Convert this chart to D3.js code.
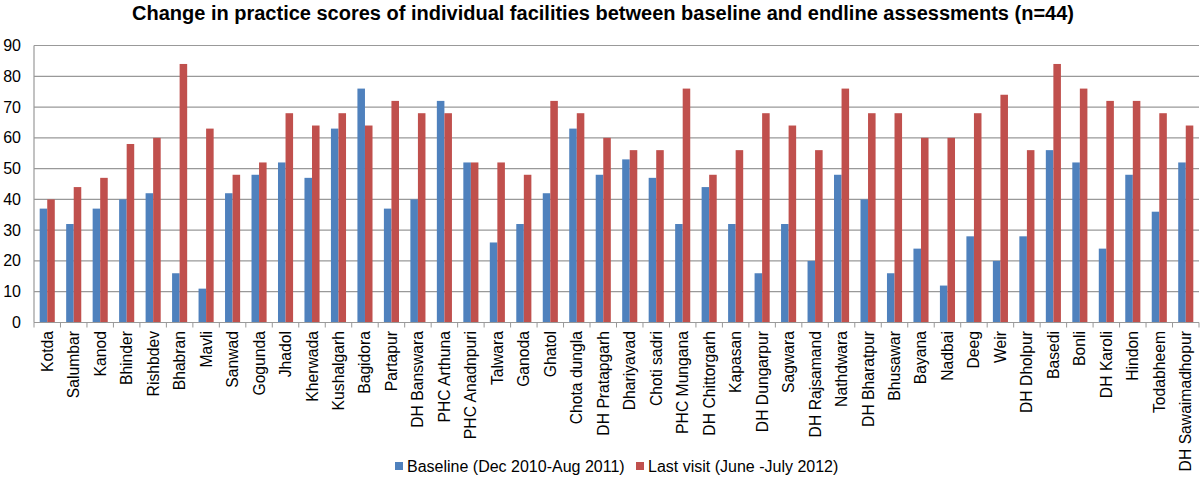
<!DOCTYPE html>
<html><head><meta charset="utf-8">
<script src="https://cdn.jsdelivr.net/npm/d3@7"></script>
<style>body{margin:0;background:#fff}svg{display:block;font-family:"Liberation Sans",Arial,sans-serif}</style>
</head><body><svg id="c" width="1200" height="481"></svg>
<script>
const categories=["Kotda","Salumbar","Kanod","Bhinder","Rishbdev","Bhabran","Mavli","Sanwad","Gogunda","Jhadol","Kherwada","Kushalgarh","Bagidora","Partapur","DH Banswara","PHC Arthuna","PHC Anadnpuri","Talwara","Ganoda","Ghatol","Chota dungla","DH Pratapgarh","Dhariyavad","Choti sadri","PHC Mungana","DH Chittorgarh","Kapasan","DH Dungarpur","Sagwara","DH Rajsamand","Nathdwara","DH Bharatpur","Bhusawar","Bayana","Nadbai","Deeg","Weir","DH Dholpur","Basedi","Bonli","DH Karoli","Hindon","Todabheem","DH Sawaimadhopur"];
const baseline=[37,32,37,40,42,16,11,42,48,52,47,63,76,37,40,72,52,26,32,42,63,48,53,47,32,44,32,16,32,20,48,40,16,24,12,28,20,28,56,52,24,48,36,52];
const lastVisit=[40,44,47,58,60,84,63,48,52,68,64,68,64,72,68,68,52,52,48,72,68,60,56,56,76,48,56,68,64,56,76,68,68,60,60,68,74,56,84,76,72,72,68,64];
const seriesNames=["Baseline (Dec 2010-Aug 2011)","Last visit (June -July 2012)"];
const yTicks=[0,10,20,30,40,50,60,70,80,90];
const colors=["#4f81bd","#c0504d"];

const svg=d3.select("#c");
const x=d3.scaleBand().domain(categories).range([34,1199]).paddingInner(0.43).paddingOuter(0.215);
const xb=d3.scaleBand().domain(categories).range([34,1199]);
const y=d3.scaleLinear().domain([0,90]).range([322.5,45.5]);
const inner=d3.scaleBand().domain([0,1]).range([0,x.bandwidth()]);

svg.append("text").attr("x",603).attr("y",20).attr("text-anchor","middle")
  .attr("font-size",20).attr("font-weight","bold").text("Change in practice scores of individual facilities between baseline and endline assessments (n=44)");

svg.append("g").selectAll("line").data(yTicks.filter(d=>d>0)).join("line")
  .attr("x1",34).attr("x2",1199).attr("y1",d=>y(d)).attr("y2",d=>y(d))
  .attr("stroke","#999").attr("stroke-width",1.2);
svg.append("g").selectAll("text").data(yTicks).join("text")
  .attr("x",21).attr("y",d=>y(d)+5.5).attr("text-anchor","end").attr("font-size",16).text(d=>d);
svg.append("line").attr("x1",34).attr("x2",34).attr("y1",45.5).attr("y2",322.5).attr("stroke","#999").attr("stroke-width",1.2);

const data=[baseline,lastVisit];
data.forEach((vals,si)=>{
  svg.append("g").selectAll("rect").data(categories).join("rect")
    .attr("x",(c)=>x(c)+inner(si)).attr("width",inner.bandwidth())
    .attr("y",(c,i)=>y(vals[i])).attr("height",(c,i)=>y(0)-y(vals[i]))
    .attr("fill",colors[si]);
});

const xa=svg.append("g");
xa.append("line").attr("x1",34).attr("x2",1199).attr("y1",322.5).attr("y2",322.5).attr("stroke","#999").attr("stroke-width",1.2);
const bounds=categories.map(c=>xb(c)).concat([1199]);
xa.selectAll("line.t").data(bounds).join("line").attr("class","t")
  .attr("x1",d=>d).attr("x2",d=>d).attr("y1",322.5).attr("y2",327.5).attr("stroke","#999");
xa.selectAll("text").data(categories).join("text")
  .attr("transform",c=>`translate(${xb(c)+xb.bandwidth()/2+5.5},331) rotate(-90)`)
  .attr("text-anchor","end").attr("font-size",15.7).text(c=>c);

const lg=svg.append("g");
const lx=[395,636];
seriesNames.forEach((n,i)=>{
  lg.append("rect").attr("x",lx[i]).attr("y",462).attr("width",8).attr("height",8).attr("fill",colors[i]);
  lg.append("text").attr("x",lx[i]+12).attr("y",471.5).attr("font-size",16).text(n);
});
</script></body></html>
